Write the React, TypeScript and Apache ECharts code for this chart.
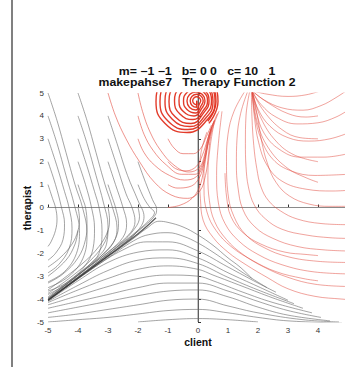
import React, { useEffect, useRef } from "react";
import * as echarts from "echarts";

const xMin = -5;
const xMax = 5;
const yMin = -5;
const yMax = 5;
const tickStep = 1;

const titleLine1 = "m= −1 −1   b= 0 0   c= 10   1";
const titleLine2 = "makepahse7   Therapy Function 2";
const xName = "client";
const yName = "therapist";

// gray trajectories that start on the upper-left grid points
const grayUpper = [
  [[-5, 1], [-4.85, 0.4], [-4.75, 0], [-4.7, -0.5], [-4.75, -1.0], [-4.9, -1.5], [-5, -1.7]],
  [[-5, 2], [-4.75, 1], [-4.55, 0], [-4.45, -0.7], [-4.5, -1.4], [-4.75, -2.0], [-5, -2.3]],
  [[-5, 3], [-4.7, 1.8], [-4.45, 0.7], [-4.3, 0], [-4.2, -0.9], [-4.3, -1.8], [-4.65, -2.5], [-5, -2.85]],
  [[-5, 4], [-4.7, 2.8], [-4.4, 1.4], [-4.1, 0], [-3.95, -1.0], [-4.05, -2.0], [-4.45, -2.8], [-5, -3.25]],
  [[-5, 5], [-4.7, 3.8], [-4.4, 2.4], [-4.1, 1.0], [-3.85, 0], [-3.7, -1.1], [-3.8, -2.1], [-4.3, -3.0], [-5, -3.5]],
  [[-4, 1], [-3.85, 0.4], [-3.75, 0], [-3.7, -0.7], [-3.75, -1.4], [-4.0, -2.2], [-4.5, -2.9], [-5, -3.3]],
  [[-4, 2], [-3.75, 1], [-3.55, 0], [-3.45, -0.9], [-3.5, -1.8], [-3.8, -2.6], [-4.4, -3.3], [-5, -3.65]],
  [[-4, 3], [-3.7, 1.8], [-3.45, 0.7], [-3.3, 0], [-3.2, -1.0], [-3.3, -2.0], [-3.7, -2.6], [-4.4, -3.35], [-5, -3.8]],
  [[-4, 4], [-3.7, 2.8], [-3.4, 1.4], [-3.15, 0.2], [-3.0, -0.8], [-3.05, -1.6], [-3.5, -2.35], [-4.2, -3.1], [-5, -3.9]],
  [[-4, 5], [-3.7, 3.8], [-3.4, 2.4], [-3.1, 1.0], [-2.85, 0], [-2.7, -0.9], [-2.85, -1.6], [-3.4, -2.3], [-4.2, -3.15], [-5, -3.97]],
  [[-3, 1], [-2.85, 0.4], [-2.75, 0], [-2.65, -0.7], [-2.75, -1.35], [-3.1, -1.95], [-3.8, -2.75], [-5, -3.95]],
  [[-3, 2], [-2.75, 1], [-2.5, 0], [-2.38, -0.7], [-2.5, -1.3], [-3.0, -1.95], [-3.9, -2.85], [-5, -4.0]],
  [[-3, 3], [-2.7, 1.8], [-2.4, 0.6], [-2.2, 0], [-2.1, -0.6], [-2.25, -1.1], [-2.8, -1.75], [-3.8, -2.75], [-5, -4.0]],
  [[-3, 4], [-2.7, 2.8], [-2.35, 1.4], [-2.0, 0.3], [-1.8, -0.4], [-2.0, -1.0], [-2.6, -1.7], [-3.5, -2.6], [-5, -4.05]],
  [[-4, 0], [-3.95, -0.5], [-4.0, -1.0], [-4.2, -1.6], [-4.6, -2.2], [-5, -2.6]],
  [[-3, 0], [-2.95, -0.5], [-3.0, -1.0], [-3.3, -1.7], [-3.9, -2.5], [-5, -3.6]],
  [[-4, -1], [-4.1, -1.6], [-4.4, -2.3], [-5, -3.0]],
  [[-3, -1], [-3.1, -1.5], [-3.5, -2.2], [-4.2, -3.0], [-5, -3.75]],
  [[-2, 0], [-1.95, -0.4], [-2.1, -0.9], [-2.6, -1.6], [-3.5, -2.55], [-5, -4.03]],
  [[-2, -1], [-2.3, -1.4], [-3, -2.1], [-4, -3.05], [-5, -4.02]],
];

// gray trajectories that turn sharply near the origin
const grayHairpin = [
  [[-2, 1], [-1.8, 0.4], [-1.6, 0], [-1.45, -0.22], [-1.55, -0.45], [-2.0, -1.0], [-3, -2.02], [-4, -3.05], [-5, -4.03]],
  [[-2, 2], [-1.75, 1.1], [-1.52, 0.35], [-1.38, -0.08], [-1.42, -0.32], [-1.8, -0.82], [-2.8, -1.85], [-4, -3.02], [-5, -4.04]],
];

// the attracting diagonal
const grayDiagonal = [[-1.4, -0.45], [-2, -1.15], [-3, -2.12], [-4, -3.08], [-5, -4.05]];

// gray trajectories coming from the lower right
const grayLower = [
  [[1.8, -3.1], [1.4, -2.6], [1, -2.2], [0.5, -1.65], [0, -1.2], [-0.5, -0.85], [-1, -0.65], [-1.3, -0.6], [-1.7, -0.9], [-2.2, -1.4], [-3, -2.15], [-4, -3.1], [-5, -4.05]],
  [[2.3, -3.5], [1.5, -2.85], [1, -2.4], [0.5, -1.95], [0, -1.55], [-0.5, -1.25], [-1, -1.1], [-1.5, -1.15], [-2, -1.35], [-3, -2.2], [-4, -3.12], [-5, -4.05]],
  [[2.6, -3.7], [2, -3.3], [1, -2.6], [0, -1.9], [-1, -1.5], [-1.7, -1.5], [-2.5, -1.85], [-3.5, -2.65], [-4.3, -3.4], [-5, -4.07]],
  [[3, -4.05], [2, -3.45], [1, -2.85], [0, -2.2], [-1, -1.85], [-2, -1.95], [-3, -2.4], [-4, -3.2], [-5, -4.08]],
  [[3.2, -4.2], [2, -3.6], [1, -3.05], [0, -2.45], [-1, -2.2], [-2, -2.3], [-3, -2.75], [-4, -3.4], [-5, -4.1]],
  [[3.5, -4.4], [2.5, -3.95], [1.5, -3.45], [0.5, -2.95], [0, -2.7], [-1, -2.55], [-2, -2.7], [-3, -3.1], [-4, -3.6], [-5, -4.15]],
  [[3.8, -4.6], [2.5, -4.15], [1.5, -3.7], [0.5, -3.2], [0, -3.0], [-1, -2.95], [-2, -3.1], [-3, -3.45], [-4, -3.85], [-5, -4.25]],
  [[4.1, -4.8], [3, -4.5], [2, -4.1], [1, -3.65], [0, -3.3], [-1, -3.3], [-2, -3.5], [-3, -3.8], [-4, -4.1], [-5, -4.4]],
  [[4.4, -4.95], [3, -4.7], [2, -4.35], [1, -3.9], [0, -3.6], [-1, -3.65], [-2, -3.85], [-3, -4.1], [-4, -4.35], [-5, -4.6]],
  [[4.7, -5.0], [3.5, -4.9], [2, -4.6], [1, -4.3], [0, -4.0], [-1, -4.05], [-2, -4.25], [-3, -4.45], [-4, -4.65], [-5, -4.8]],
  [[4.8, -5.05], [3, -4.95], [2, -4.8], [1, -4.6], [0, -4.45], [-1, -4.5], [-2, -4.65], [-3, -4.8], [-4, -4.9], [-5, -5.0]],
  [[2, -5.0], [1, -4.9], [0, -4.85], [-1, -4.9], [-2, -5.0]],
];

// red trajectories from the left that swing round and climb into the spiral
const redLeft = [
  [[-3, 5], [-2.75, 4], [-2.4, 3], [-1.95, 2.0], [-1.45, 1.1], [-0.9, 0.55], [-0.35, 0.4], [0.05, 0.7], [0.25, 1.4], [0.35, 2.3], [0.42, 3.1], [0.55, 3.7], [0.7, 4.2]],
  [[-2, 5], [-1.85, 4.2], [-1.6, 3.3], [-1.25, 2.5], [-0.8, 1.85], [-0.3, 1.55], [0.05, 1.75], [0.22, 2.3], [0.33, 3.0], [0.48, 3.6], [0.65, 4.1]],
  [[-2, 4], [-1.8, 3.2], [-1.5, 2.5], [-1.05, 1.85], [-0.55, 1.45], [-0.1, 1.45], [0.15, 1.9], [0.28, 2.6], [0.4, 3.3], [0.55, 3.8]],
  [[-2, 3], [-1.8, 2.4], [-1.45, 1.85], [-0.95, 1.4], [-0.45, 1.2], [-0.05, 1.35], [0.18, 1.9], [0.32, 2.7], [0.45, 3.4]],
  [[-1, 3], [-0.8, 2.6], [-0.5, 2.35], [-0.15, 2.35], [0.1, 2.6], [0.28, 3.1], [0.45, 3.6]],
  [[-1, 2], [-0.75, 1.7], [-0.4, 1.6], [-0.05, 1.8], [0.15, 2.3], [0.3, 2.9], [0.45, 3.5]],
  [[-1, 1], [-0.7, 0.85], [-0.3, 0.9], [0.0, 1.2], [0.18, 1.8], [0.3, 2.6], [0.42, 3.3], [0.55, 3.8]],
  [[-1, 0], [-0.6, 0.1], [-0.2, 0.4], [0.05, 0.9], [0.2, 1.7], [0.3, 2.5], [0.4, 3.2], [0.52, 3.7]],
];

// the spiral sink near (0, 4.65): two interleaved spirals
const redSpiral = [
  [[0.327, 3.764], [0.6, 4.629], [0.327, 5.493], [-0.333, 5.852], [-0.993, 5.493], [-1.267, 4.629], [-0.993, 3.764], [-0.333, 3.406],
   [0.287, 3.948], [0.5, 4.629], [0.287, 5.31], [-0.233, 5.59], [-0.753, 5.31], [-0.967, 4.629], [-0.753, 3.948], [-0.233, 3.668],
   [0.22, 4.188], [0.367, 4.651], [0.22, 5.114], [-0.133, 5.306], [-0.487, 5.114], [-0.633, 4.651], [-0.487, 4.188], [-0.133, 3.996],
   [0.147, 4.371], [0.233, 4.651], [0.147, 4.93], [-0.067, 5.044], [-0.28, 4.93], [-0.367, 4.651], [-0.28, 4.371], [-0.067, 4.258],
   [0.05, 4.537], [0.09, 4.659], [0.05, 4.782], [-0.043, 4.834], [-0.137, 4.782], [-0.177, 4.659], [-0.137, 4.537], [-0.043, 4.485], [-0.043, 4.66]],
  [[0.363, 3.672], [0.667, 4.629], [0.363, 5.585], [-0.367, 5.983], [-1.097, 5.585], [-1.4, 4.629], [-1.097, 3.672], [-0.367, 3.275],
   [0.323, 3.856], [0.567, 4.629], [0.323, 5.402], [-0.267, 5.72], [-0.857, 5.402], [-1.1, 4.629], [-0.857, 3.856], [-0.267, 3.537],
   [0.27, 4.079], [0.45, 4.651], [0.27, 5.223], [-0.167, 5.459], [-0.603, 5.223], [-0.783, 4.651], [-0.603, 4.079], [-0.167, 3.843],
   [0.2, 4.279], [0.317, 4.651], [0.2, 5.022], [-0.083, 5.175], [-0.367, 5.022], [-0.483, 4.651], [-0.367, 4.279], [-0.083, 4.127],
   [0.11, 4.459], [0.173, 4.659], [0.11, 4.86], [-0.043, 4.943], [-0.197, 4.86], [-0.26, 4.659], [-0.197, 4.459], [-0.043, 4.376], [-0.043, 4.66]],
];

// red arcs sweeping through the lower right
const redArcs = [
  [[0.3, 3.3], [0.1, 2.4], [0.05, 1.4], [0.08, 0.4], [0.17, -0.55], [0.5, -1.3], [1.0, -1.95], [1.6, -2.5], [2.3, -3.05], [3.0, -3.55], [3.9, -3.88], [4.8, -4.0], [5, -4.02]],
  [[0.55, 3.8], [0.4, 2.6], [0.33, 1.4], [0.38, 0.3], [0.55, -0.6], [0.95, -1.4], [1.5, -2.05], [2.2, -2.6], [3.0, -3.05], [3.9, -3.35], [5, -3.45]],
  [[0.8, 4.2], [0.68, 2.8], [0.62, 1.4], [0.68, 0.2], [0.9, -0.7], [1.35, -1.45], [2.0, -2.05], [2.8, -2.5], [3.8, -2.8], [5, -2.9]],
  [[1.55, 5.05], [1.2, 4.2], [1.0, 3.2], [0.95, 2.0], [1.0, 0.6], [1.2, -0.4], [1.6, -1.2], [2.2, -1.75], [3.0, -2.15], [4.0, -2.35], [5, -2.4]],
  [[1.65, 5.05], [1.42, 4.1], [1.3, 3.0], [1.28, 1.9], [1.33, 0.9], [1.5, -0.1], [1.9, -0.85], [2.5, -1.35], [3.3, -1.7], [4.2, -1.85], [5, -1.9]],
  [[1.72, 5.05], [1.6, 4.0], [1.58, 2.8], [1.6, 1.8], [1.68, 0.9], [1.88, 0.1], [2.25, -0.5], [2.8, -0.95], [3.6, -1.2], [4.4, -1.32], [5, -1.35]],
  [[1.78, 5.05], [1.8, 3.9], [1.86, 2.7], [1.96, 1.7], [2.1, 0.9], [2.35, 0.3], [2.75, -0.15], [3.3, -0.5], [4.1, -0.7], [5, -0.75]],
  [[1.82, 5.05], [1.98, 4.0], [2.12, 2.9], [2.32, 1.9], [2.6, 1.1], [3.05, 0.5], [3.7, 0.15], [4.4, 0.05], [5, 0.05]],
  [[0.2, 2.0], [0.2, 0.8], [0.3, -0.2], [0.6, -1.0], [1.1, -1.7], [1.8, -2.3], [2.6, -2.8], [3.5, -3.1], [4, -3.2]],
  [[0.9, 1.5], [0.95, 0.5], [1.1, -0.4], [1.5, -1.1], [2.1, -1.6], [2.9, -1.95], [3.6, -2.05], [4, -2.1]],
];

// red fan spreading from the top near x = 1.8
const redFan = [
  [[1.8, 5.1], [2.3, 4.95], [3, 4.85], [3.6, 4.92], [4.1, 5.1]],
  [[1.8, 5.1], [2.2, 4.7], [2.8, 4.35], [3.5, 4.25], [4.1, 4.45], [4.6, 4.8], [5, 5.15]],
  [[1.8, 5.1], [2.1, 4.5], [2.6, 3.95], [3.3, 3.65], [4, 3.7], [4.6, 3.95], [5, 4.25]],
  [[1.8, 5.1], [2.0, 4.3], [2.4, 3.55], [3.0, 3.05], [3.7, 2.9], [4.4, 3.0], [5, 3.25]],
  [[1.8, 5.1], [1.95, 4.15], [2.2, 3.25], [2.7, 2.55], [3.4, 2.2], [4.2, 2.2], [5, 2.35]],
  [[1.8, 5.1], [1.9, 4.0], [2.1, 3.0], [2.5, 2.1], [3.1, 1.6], [3.9, 1.4], [5, 1.45]],
  [[1.8, 5.1], [1.88, 3.95], [2.02, 2.85], [2.3, 1.85], [2.8, 1.15], [3.6, 0.8], [4.5, 0.72], [5, 0.75]],
  [[1.8, 5.1], [2.3, 4.6], [3.0, 4.1], [3.6, 3.95], [4, 4.0]],
  [[1.8, 5.1], [2.2, 4.2], [2.8, 3.4], [3.4, 3.05], [4, 3.0]],
  [[1.8, 5.1], [2.1, 3.9], [2.6, 2.9], [3.2, 2.3], [4, 2.0]],
  [[1.8, 5.1], [2.0, 3.6], [2.4, 2.5], [3.0, 1.7], [3.6, 1.3], [4, 1.1]],
];

const zeroLines = [
  [[-5, 0], [5, 0]],
  [[0, -5], [0, 5]],
];

const FONT = "'Liberation Sans', Arial, Helvetica, sans-serif";

function curveSeries(curves: number[][][], color: string, width: number, opacity: number, z: number, smooth = 0.4) {
  return curves.map((c) => ({
    type: "line",
    data: c,
    showSymbol: false,
    smooth,
    silent: true,
    z,
    lineStyle: { color, width, opacity },
  }));
}

export default function App() {
  const ref = useRef<HTMLDivElement>(null);
  useEffect(() => {
    if (!ref.current) return;
    const chart = echarts.init(ref.current, undefined, { renderer: "svg" });
    const fmt = (v: number) => String(v);
    const series: any[] = [
      ...zeroLines.map((c) => ({
        type: "line",
        data: c,
        showSymbol: false,
        silent: true,
        z: 1,
        lineStyle: { color: "#8a8a8a", width: 1 },
      })),
      ...curveSeries(grayUpper, "#666", 0.85, 0.7, 2),
      ...curveSeries(grayHairpin, "#666", 0.85, 0.7, 2),
      ...curveSeries(grayLower, "#666", 0.85, 0.7, 2),
      ...curveSeries([grayDiagonal], "#2a2a2a", 1.3, 0.75, 3),
      ...curveSeries(redLeft, "#e24a3e", 0.85, 0.7, 2),
      ...curveSeries(redArcs, "#e24a3e", 0.85, 0.6, 2),
      ...curveSeries(redFan, "#e24a3e", 0.85, 0.6, 2),
      ...curveSeries(redSpiral, "#e0301f", 1.4, 0.95, 3, 0.5),
    ];
    chart.setOption({
      animation: false,
      backgroundColor: "#ffffff",
      grid: { left: 48, top: 93, width: 300, height: 229, containLabel: false, outerBoundsMode: "none" },
      xAxis: {
        type: "value",
        min: xMin,
        max: xMax,
        interval: tickStep,
        axisLine: { lineStyle: { color: "#333", width: 1 } },
        axisTick: { inside: true, length: 3, lineStyle: { color: "#333" } },
        axisLabel: { formatter: fmt, fontSize: 8, color: "#333", margin: 4, fontFamily: FONT, showMaxLabel: false },
        splitLine: { show: false },
      },
      yAxis: {
        type: "value",
        min: yMin,
        max: yMax,
        interval: tickStep,
        axisLine: { show: true, lineStyle: { color: "#333", width: 1 } },
        axisTick: { show: true, inside: true, length: 3, lineStyle: { color: "#333" } },
        axisLabel: { formatter: fmt, fontSize: 8, color: "#333", margin: 4, fontFamily: FONT },
        splitLine: { show: false },
      },
      graphic: [
        { type: "line", shape: { x1: 12, y1: 0, x2: 12, y2: 367 }, style: { stroke: "#808080", lineWidth: 2 } },
        { type: "text", x: 197, y: 71, scaleX: 1.17, style: { text: titleLine1, font: `bold 10.5px ${FONT}`, fill: "#111", textAlign: "center", textVerticalAlign: "middle" } },
        { type: "text", x: 197, y: 82, scaleX: 1.17, style: { text: titleLine2, font: `bold 10.5px ${FONT}`, fill: "#111", textAlign: "center", textVerticalAlign: "middle" } },
        { type: "text", x: 198, y: 342, style: { text: xName, font: `bold 10.5px ${FONT}`, fill: "#111", textAlign: "center", textVerticalAlign: "middle" } },
        { type: "text", x: 27, y: 208, rotation: Math.PI / 2, style: { text: yName, font: `bold 10.5px ${FONT}`, fill: "#111", textAlign: "center", textVerticalAlign: "middle" } },
      ],
      series,
    });
    return () => chart.dispose();
  }, []);
  return (
    <div
      ref={ref}
      style={{ position: "fixed", left: 0, top: 0, width: 345, height: 367, background: "#fff" }}
    />
  );
}
